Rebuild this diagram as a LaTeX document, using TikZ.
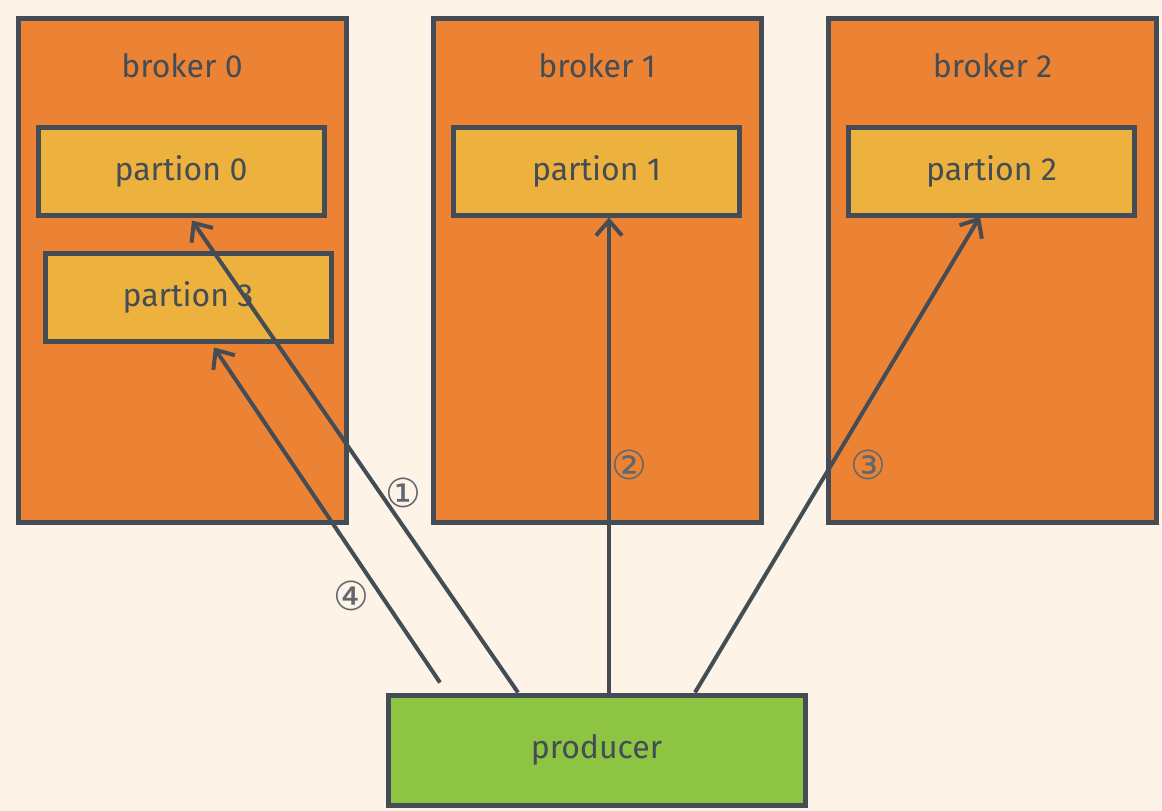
\documentclass[tikz,border=0pt]{standalone}
\usepackage{fontspec}
\setmainfont{Fira Sans}
\newfontfamily\circfont{DejaVu Sans}
\usepackage{tikz}
\usetikzlibrary{arrows.meta}
\definecolor{paper}{HTML}{FDF3E7}
\definecolor{ink}{HTML}{444C55}
\definecolor{brokerfill}{HTML}{EC8334}
\definecolor{partfill}{HTML}{EDB23D}
\definecolor{prodfill}{HTML}{8DC441}
\tikzset{
  brokerbox/.style={draw=ink,line width=5pt,fill=brokerfill,minimum width=328pt,minimum height=504pt,inner sep=0pt},
  partbox/.style={draw=ink,line width=5pt,fill=partfill,minimum width=286pt,minimum height=88pt,font=\fontsize{32}{34}\selectfont,text=ink},
  prodbox/.style={draw=ink,line width=5pt,fill=prodfill,minimum width=417pt,minimum height=110pt,font=\fontsize{32}{34}\selectfont,text=ink},
  title/.style={font=\fontsize{32}{34}\selectfont,text=ink},
  sendarrow/.style={draw=ink,line width=4pt,-{Straight Barb[length=15pt,width=26pt,line width=4pt]}},
  step no/.style={font=\circfont\fontsize{40}{42}\selectfont,text=ink!85}
}

\begin{document}
\begin{tikzpicture}[x=1pt,y=-1pt]
\useasboundingbox[fill=paper] (0,0) rectangle (1162,811);
% brokers
\node[brokerbox] (b0) at (182,270) {};
\node[brokerbox] (b1) at (597,270) {};
\node[brokerbox] (b2) at (992.5,270) {};
\node[title,below=34pt] (t0) at (b0.north) {broker 0};
\node[title,below=34pt] (t1) at (b1.north) {broker 1};
\node[title,below=34pt] (t2) at (b2.north) {broker 2};
% partitions
\node[partbox] (p0) at (181,171) {partion 0};
\node[partbox] (p3) at (188,297) {partion 3};
\node[partbox] (p1) at (596.5,171) {partion 1};
\node[partbox] (p2) at (991.5,171) {partion 2};
% producer
\node[prodbox] (prod) at (596.5,750) {producer};
% messages
\draw[sendarrow] ([xshift=-78.5pt]prod.north) -- ([xshift=11pt,yshift=-3pt]p0.south);
\draw[sendarrow] ([xshift=12.5pt]prod.north) -- ([xshift=12.5pt]p1.south);
\draw[sendarrow] ([xshift=98.5pt]prod.north) -- ([xshift=-11.5pt,yshift=1pt]p2.south);
\draw[sendarrow] ([xshift=-156.5pt,yshift=10pt]prod.north) -- ([xshift=26pt,yshift=-4pt]p3.south);
\node[step no] (n1) at (403,493) {①};
\node[step no] (n2) at (629,465) {②};
\node[step no] (n3) at (868,465) {③};
\node[step no] (n4) at (351,596) {④};
\end{tikzpicture}
\end{document}
